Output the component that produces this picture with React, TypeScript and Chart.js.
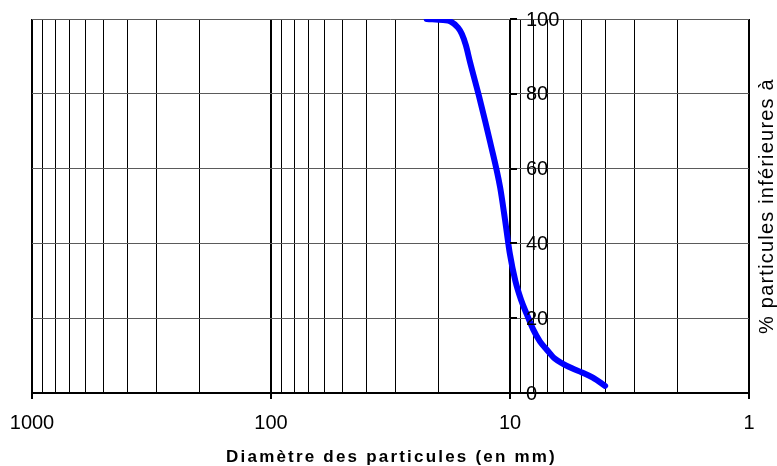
import React, { useEffect, useRef } from 'react';
import { Chart, registerables } from 'chart.js';

Chart.register(...registerables);

// ---- data ----
const diameters = [22.3, 19.0, 17.8, 16.5, 15.9, 15.3, 14.7, 13.35, 12.1, 11.0, 10.5, 10.0, 9.5, 9.0, 8.5, 8.0, 7.5, 7.0, 6.5, 6.0, 5.5, 5.0, 4.5, 4.0];
const passing = [100, 99.7, 99.4, 97.7, 96, 93, 88.5, 78.3, 67, 55, 46.5, 37, 30, 25, 21, 17, 13.8, 11.5, 9.2, 7.8, 6.6, 5.5, 4.1, 1.9];
const xTickValues = [1, 2, 3, 4, 5, 6, 7, 8, 9, 10, 20, 30, 40, 50, 60, 70, 80, 90, 100, 200, 300, 400, 500, 600, 700, 800, 900, 1000];
const xMajorTicks = [1, 10, 100, 1000];
const yTickValues = [0, 20, 40, 60, 80, 100];
const yAxisCrossing = 10;
const xTitle = 'Diamètre des particules (en mm)';
const yTitle = '% particules inférieures à';

const FONT = '"Liberation Sans", Arial, Helvetica, sans-serif';

const overlayPlugin = {
  id: 'overlay',
  afterDatasetsDraw(chart: any) {
    const { ctx, scales, chartArea } = chart;
    const xs = scales.x;
    const ys = scales.y;
    const x0 = Math.round(xs.getPixelForValue(yAxisCrossing));
    ctx.save();
    // y-axis tick marks at the crossing value
    ctx.strokeStyle = '#000';
    ctx.lineWidth = 2;
    yTickValues.forEach((v) => {
      const py = Math.round(ys.getPixelForValue(v));
      ctx.beginPath();
      ctx.moveTo(x0, py);
      ctx.lineTo(x0 + 7, py);
      ctx.stroke();
    });
    // y tick labels
    ctx.fillStyle = '#000';
    ctx.font = `20px ${FONT}`;
    ctx.textAlign = 'left';
    ctx.textBaseline = 'middle';
    yTickValues.forEach((v) => {
      ctx.fillText(String(v), x0 + 16, ys.getPixelForValue(v) + 1);
    });
    // x title
    ctx.font = `bold 17px ${FONT}`;
    (ctx as any).letterSpacing = '2.2px';
    ctx.textAlign = 'center';
    ctx.textBaseline = 'middle';
    ctx.fillText(xTitle, (chartArea.left + chartArea.right) / 2 + 1, 457);
    // y title (rotated, reading bottom to top)
    ctx.font = `20px ${FONT}`;
    (ctx as any).letterSpacing = '1.2px';
    ctx.translate(767, (chartArea.top + chartArea.bottom) / 2);
    ctx.rotate(-Math.PI / 2);
    ctx.fillText(yTitle, 0, 0);
    (ctx as any).letterSpacing = '0px';
    ctx.restore();
  },
};

export default function App() {
  const canvasRef = useRef<HTMLCanvasElement | null>(null);

  useEffect(() => {
    document.body.style.margin = '0';
    const canvas = canvasRef.current;
    if (!canvas) return;
    const isMajor = (v: number) => xMajorTicks.includes(v);
    const chart = new Chart(canvas, {
      type: 'line',
      data: {
        datasets: [
          {
            label: 'Courbe granulométrique',
            data: diameters.map((d, i) => ({ x: d, y: passing[i] })),
            borderColor: '#0000FF',
            borderWidth: 6,
            pointRadius: 0,
            pointHoverRadius: 0,
            fill: false,
            cubicInterpolationMode: 'monotone',
            borderCapStyle: 'round',
            borderJoinStyle: 'round',
          },
        ],
      },
      options: {
        responsive: false,
        animation: false,
        devicePixelRatio: 1,
        layout: { padding: { left: 32, right: 28, top: 19, bottom: 33 } },
        plugins: {
          legend: { display: false },
          tooltip: { enabled: false },
          title: { display: false },
        },
        scales: {
          x: {
            type: 'logarithmic',
            reverse: true,
            min: 1,
            max: 1000,
            afterBuildTicks: (scale: any) => {
              scale.ticks = xTickValues.map((v) => ({ value: v }));
            },
            afterFit: (scale: any) => {
              scale.height = 40;
            },
            grid: {
              color: '#000',
              lineWidth: (c: any) => (c.tick && isMajor(c.tick.value) ? 2 : 1),
              drawTicks: true,
              tickLength: 6,
              tickColor: (c: any) => (c.tick && isMajor(c.tick.value) ? '#000' : 'rgba(0,0,0,0)'),
              tickWidth: (c: any) => (c.tick && isMajor(c.tick.value) ? 2 : 1),
            },
            border: { display: true, color: '#000', width: 2 },
            ticks: {
              autoSkip: false,
              maxRotation: 0,
              minRotation: 0,
              padding: 12,
              color: '#000',
              font: { family: FONT, size: 20 },
              callback: (value: any) => (isMajor(Number(value)) ? String(value) : ''),
            },
            title: { display: false },
          },
          y: {
            type: 'linear',
            position: 'left',
            min: 0,
            max: 100,
            ticks: { display: false, stepSize: 20 },
            grid: { color: '#5a5a5a', lineWidth: 1, drawTicks: false },
            border: { display: false },
            title: { display: false },
          },
        },
      },
      plugins: [overlayPlugin],
    } as any);
    return () => chart.destroy();
  }, []);

  return (
    <div style={{ width: 777, height: 466 }}>
      <canvas ref={canvasRef} width={777} height={466} style={{ display: 'block' }} />
    </div>
  );
}
